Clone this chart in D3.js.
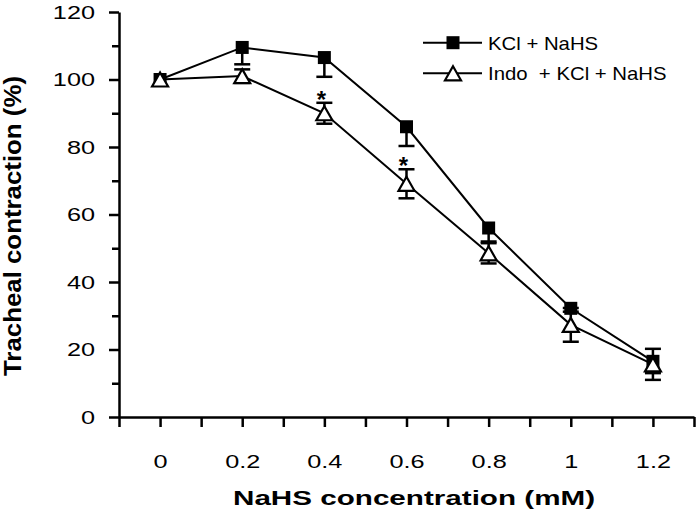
<!DOCTYPE html>
<html>
<head>
<meta charset="utf-8">
<script src="https://cdn.jsdelivr.net/npm/d3@7"></script>
<style>
  html, body { margin: 0; padding: 0; background: #fff; }
  svg { display: block; }
  text { font-family: "Liberation Sans", Arial, sans-serif; fill: #000; }
</style>
</head>
<body>
<svg id="chart" width="696" height="514"></svg>
<script>
// ---- data ----
const concentrations = [0, 0.2, 0.4, 0.6, 0.8, 1.0, 1.2];
const xTickLabels = ["0", "0.2", "0.4", "0.6", "0.8", "1", "1.2"];
const kclNahs = [100, 109.5, 106.5, 86, 56, 32.2, 16.5];
const kclNahsErr = [0, 5, 5.7, 5.7, 4, 1, 3.5];
const indoKclNahs = [100, 101, 90, 69.1, 48.5, 27.3, 15.6];
const indoKclNahsErr = [0, 2, 3.1, 4.3, 3, 5, 4.6];
const significantConc = [0.4, 0.6];
const yTickValues = [0, 10, 20, 30, 40, 50, 60, 70, 80, 90, 100, 110, 120];
const yTickLabels = ["0", "20", "40", "60", "80", "100", "120"];
const seriesNames = ["KCl + NaHS", "Indo\u00A0 + KCl + NaHS"];
const xTitle = "NaHS concentration (mM)";
const yTitle = "Tracheal contraction (%)";

// ---- setup ----
const svg = d3.select("#chart");
const x = d3.scaleLinear().domain([-0.1, 1.3]).range([119, 694]);
const y = d3.scaleLinear().domain([0, 120]).range([417, 12]);

function stretch(sel, k) {
  sel.each(function () {
    const L = this.getComputedTextLength();
    d3.select(this).attr("textLength", L * k).attr("lengthAdjust", "spacingAndGlyphs");
  });
}

// ---- axes ----
const xTicks = d3.range(-1, 14).map(i => i / 10);
const xAxis = d3.axisBottom(x)
  .tickValues(xTicks)
  .tickSize(10)
  .tickSizeOuter(0)
  .tickPadding(28)
  .tickFormat(d => {
    const i = concentrations.findIndex(c => Math.abs(c - d) < 1e-9);
    return i >= 0 ? xTickLabels[i] : "";
  });
const gx = svg.append("g").attr("transform", `translate(0,${y(0)})`).call(xAxis);
gx.select(".domain").attr("stroke", "#000").attr("stroke-width", 2.5);
gx.selectAll(".tick line").attr("stroke", "#000").attr("stroke-width", 2.5);
gx.selectAll(".tick text").attr("font-size", 19).attr("font-family", "Liberation Sans, Arial, sans-serif");
stretch(gx.selectAll(".tick text").filter(function () { return this.textContent !== ""; }), 1.33);

const yAxis = d3.axisLeft(y)
  .tickValues(yTickValues)
  .tickSize(10)
  .tickSizeOuter(0)
  .tickPadding(14)
  .tickFormat(d => yTickLabels.includes(String(d)) ? String(d) : "");
const gy = svg.append("g").attr("transform", `translate(${x(-0.1)},0)`).call(yAxis);
gy.select(".domain").attr("stroke", "#000").attr("stroke-width", 2.5);
gy.selectAll(".tick line").attr("stroke", "#000").attr("stroke-width", 2.5)
  .attr("x2", d => (d % 20 === 0 ? -10 : -7));
gy.selectAll(".tick text").attr("font-size", 19).attr("font-family", "Liberation Sans, Arial, sans-serif");
stretch(gy.selectAll(".tick text").filter(function () { return this.textContent !== ""; }), 1.33);

// axis titles
const xt = svg.append("text")
  .attr("x", 414).attr("y", 505)
  .attr("text-anchor", "middle")
  .attr("font-size", 21).attr("font-weight", "bold")
  .text(xTitle);
xt.attr("textLength", 362).attr("lengthAdjust", "spacingAndGlyphs");

const yt = svg.append("text")
  .attr("transform", "translate(21,226) rotate(-90)")
  .attr("text-anchor", "middle")
  .attr("font-size", 23).attr("font-weight", "bold")
  .text(yTitle);
yt.attr("textLength", 300).attr("lengthAdjust", "spacingAndGlyphs");

// ---- series ----
const line = d3.line().x(d => x(d[0])).y(d => y(d[1]));
const sq = concentrations.map((c, i) => [c, kclNahs[i], kclNahsErr[i]]);
const tri = concentrations.map((c, i) => [c, indoKclNahs[i], indoKclNahsErr[i]]);

svg.append("path").datum(sq).attr("d", line).attr("fill", "none").attr("stroke", "#000").attr("stroke-width", 2);
svg.append("path").datum(tri).attr("d", line).attr("fill", "none").attr("stroke", "#000").attr("stroke-width", 2);

const capW = 8;
function errorBars(data, both) {
  const g = svg.append("g").attr("stroke", "#000").attr("stroke-width", 2.5);
  data.filter(d => d[2] > 0).forEach(d => {
    const cx = x(d[0]);
    const lo = y(d[1] - d[2]);
    const hi = both ? y(d[1] + d[2]) : y(d[1]);
    g.append("line").attr("x1", cx).attr("x2", cx).attr("y1", hi).attr("y2", lo);
    g.append("line").attr("x1", cx - capW).attr("x2", cx + capW).attr("y1", lo).attr("y2", lo);
    if (both) g.append("line").attr("x1", cx - capW).attr("x2", cx + capW).attr("y1", hi).attr("y2", hi);
  });
}

const sqSize = 13;
function squareAt(g, cx, cy) {
  g.append("rect").attr("x", cx - sqSize / 2).attr("y", cy - sqSize / 2)
    .attr("width", sqSize).attr("height", sqSize).attr("fill", "#000");
}
function triangleAt(g, cx, cy) {
  const w = 16, h = 14;
  g.append("path")
    .attr("d", `M${cx},${cy - h / 2}L${cx + w / 2},${cy + h / 2}L${cx - w / 2},${cy + h / 2}Z`)
    .attr("fill", "#fff").attr("stroke", "#000").attr("stroke-width", 2.2)
    .attr("stroke-linejoin", "miter");
}

errorBars(sq, false);
const gs = svg.append("g");
sq.forEach(d => squareAt(gs, x(d[0]), y(d[1])));
errorBars(tri, true);
const gt = svg.append("g");
tri.forEach(d => triangleAt(gt, x(d[0]), y(d[1])));

// significance stars
significantConc.forEach(c => {
  const i = concentrations.findIndex(v => Math.abs(v - c) < 1e-9);
  const top = y(indoKclNahs[i] + indoKclNahsErr[i]);
  svg.append("text")
    .attr("x", x(c) - 3).attr("y", top - 8 + 13)
    .attr("text-anchor", "middle")
    .attr("font-size", 24).attr("font-weight", "bold")
    .text("*");
});

// ---- legend ----
const legend = svg.append("g");
const legRows = [42.7, 73.3];
legRows.forEach((ly, i) => {
  legend.append("line").attr("x1", 423).attr("x2", 482).attr("y1", ly).attr("y2", ly)
    .attr("stroke", "#000").attr("stroke-width", 2);
  if (i === 0) squareAt(legend, 453, ly); else triangleAt(legend, 453, ly);
  const t = legend.append("text").attr("x", 488).attr("y", ly + 7)
    .attr("font-size", 19).text(seriesNames[i]);
  stretch(t, 1.07);
});
</script>
</body>
</html>
